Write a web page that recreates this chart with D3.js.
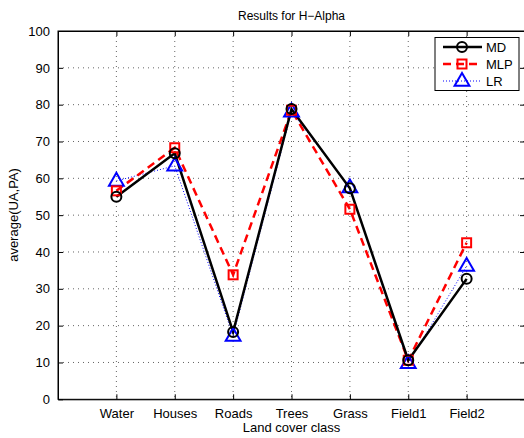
<!DOCTYPE html>
<html><head><meta charset="utf-8">
<script src="https://cdn.jsdelivr.net/npm/d3@7"></script>
<style>body{margin:0;background:#fff}svg{display:block}text{font-family:"Liberation Sans",Arial,sans-serif;}</style>
</head><body><svg id="c" width="524" height="438"></svg>
<script>
const categories = ["Water","Houses","Roads","Trees","Grass","Field1","Field2"];
const mdValues  = [55.0, 66.8, 18.3, 78.8, 57.3, 10.6, 32.7];
const mlpValues = [56.6, 68.3, 33.8, 78.5, 51.6, 10.6, 42.5];
const lrValues  = [59.3, 63.4, 17.2, 78.1, 57.5, 9.8, 36.2];
const yTicks = [0,10,20,30,40,50,60,70,80,90,100];
const seriesNames = ["MD","MLP","LR"];

const svg = d3.select("#c");
const L=58, R=525, T=31, B=399.3;
const x = d3.scaleLinear().domain([0,8]).range([L,R]);
const y = d3.scaleLinear().domain([0,100]).range([B,T]);

// grid
const g = svg.append("g");
g.selectAll("line.gx").data(categories).enter().append("line")
  .attr("x1",(d,i)=>x(i+1)).attr("x2",(d,i)=>x(i+1)).attr("y1",T).attr("y2",B)
  .attr("stroke","#000").attr("stroke-width",1).attr("stroke-dasharray","1,4").attr("opacity",0.6);
g.selectAll("line.gy").data(yTicks.slice(1,-1)).enter().append("line")
  .attr("y1",d=>y(d)).attr("y2",d=>y(d)).attr("x1",L).attr("x2",R)
  .attr("stroke","#000").attr("stroke-width",1).attr("stroke-dasharray","1,4").attr("opacity",0.6);

// axes
const xb = d3.axisBottom(x).tickValues(d3.range(1,8)).tickFormat(d=>categories[d-1]).tickSizeInner(-5).tickSizeOuter(0).tickPadding(9);
const xt = d3.axisTop(x).tickValues(d3.range(1,8)).tickFormat("").tickSizeInner(-5).tickSizeOuter(0);
const yl = d3.axisLeft(y).tickValues(yTicks).tickSizeInner(-5).tickSizeOuter(0).tickPadding(8);
const yr = d3.axisRight(y).tickValues(yTicks).tickFormat("").tickSizeInner(-5).tickSizeOuter(0);
function style(sel){sel.selectAll("text").attr("font-size",13).attr("fill","#000").attr("font-family","Liberation Sans, Arial, sans-serif");
  sel.selectAll("line,path").attr("stroke","#000");}
svg.append("g").attr("transform",`translate(0,${B})`).call(xb).call(style);
svg.append("g").attr("transform",`translate(0,${T})`).call(xt).call(style);
svg.append("g").attr("transform",`translate(${L},0)`).call(yl).call(style);
svg.append("g").attr("transform",`translate(${R},0)`).call(yr).call(style);
svg.append("rect").attr("x",L).attr("y",T).attr("width",R-L).attr("height",B-T).attr("fill","none").attr("stroke","#000");

// series
const line = d3.line().x((d,i)=>x(i+1)).y(d=>y(d));
const specs = [
 {vals:lrValues, color:"#0000ff", w:1, dash:"1,2", marker:"tri"},
 {vals:mlpValues, color:"#ff0000", w:2.5, dash:"8,5", marker:"sq"},
 {vals:mdValues, color:"#000", w:2.5, dash:null, marker:"circ"}
];
const triSym = d3.symbol().type(d3.symbolTriangle).size(95);
function drawMarker(sel, type, color){
  if(type==="circ") sel.append("circle").attr("r",5).attr("fill","none").attr("stroke",color).attr("stroke-width",2);
  else if(type==="sq") sel.append("rect").attr("x",-4.5).attr("y",-4.5).attr("width",9).attr("height",9).attr("fill","none").attr("stroke",color).attr("stroke-width",2);
  else sel.append("path").attr("d",triSym).attr("transform","translate(0,0.5)").attr("fill","none").attr("stroke",color).attr("stroke-width",2);
}
const order = [specs[2],specs[1],specs[0]];
specs.forEach(s=>{
  svg.append("path").datum(s.vals).attr("d",line).attr("fill","none").attr("stroke",s.color)
    .attr("stroke-width",s.w).attr("stroke-dasharray",s.dash);
});
specs.forEach(s=>{
  s.vals.forEach((v,i)=>{
    const m = svg.append("g").attr("transform",`translate(${x(i+1)},${y(v)})`);
    drawMarker(m, s.marker, s.color);
  });
});

// title & labels
svg.append("text").attr("x",(L+R)/2).attr("y",20).attr("text-anchor","middle").attr("font-size",12).text("Results for H\u2212Alpha");
svg.append("text").attr("x",(L+R)/2).attr("y",432).attr("text-anchor","middle").attr("font-size",13).text("Land cover class");
svg.append("text").attr("transform","translate(18,215) rotate(-90)").attr("text-anchor","middle").attr("font-size",13).text("average(UA,PA)");

// legend
const lg = svg.append("g");
lg.append("rect").attr("x",435).attr("y",37.5).attr("width",84).attr("height",53).attr("fill","#fff").attr("stroke","#000");
order.forEach((s,i)=>{
  const yy = 47 + i*17;
  lg.append("line").attr("x1",443).attr("x2",482).attr("y1",yy).attr("y2",yy).attr("stroke",s.color)
    .attr("stroke-width",s.w).attr("stroke-dasharray",s.dash);
  const m = lg.append("g").attr("transform",`translate(462,${yy})`);
  drawMarker(m, s.marker, s.color);
  lg.append("text").attr("x",486).attr("y",yy+5).attr("font-size",13).text(seriesNames[i]);
});
</script></body></html>
